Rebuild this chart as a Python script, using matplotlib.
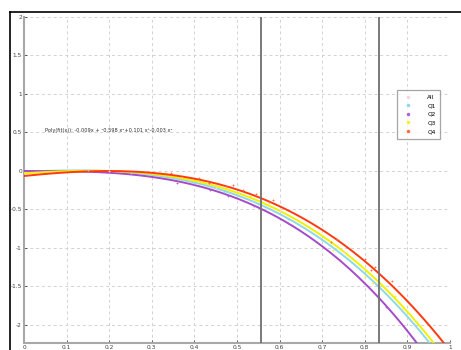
import numpy as np
import matplotlib
matplotlib.use("Agg")
import matplotlib.pyplot as plt
from matplotlib.lines import Line2D

# ---- data ----
curve_x = [0.0, 0.1, 0.2, 0.3, 0.4, 0.5, 0.6, 0.7, 0.8, 0.9, 1.0]
q1_curve = [-0.01, 0.007, -0.002, -0.050, -0.150, -0.315, -0.558, -0.894, -1.333, -1.891, -2.58]
q2_curve = [0.0, -0.003, -0.023, -0.077, -0.182, -0.356, -0.616, -0.978, -1.459, -2.078, -2.85]
q3_curve = [-0.03, -0.002, 0.0, -0.037, -0.127, -0.282, -0.516, -0.843, -1.276, -1.828, -2.512]
q4_curve = [-0.065, -0.018, 0.0, -0.023, -0.100, -0.240, -0.460, -0.765, -1.170, -1.690, -2.336]

q1_x = [0.15, 0.25, 0.40, 0.47, 0.55, 0.62, 0.70]
q1_y = [0.01, -0.03, -0.16, -0.27, -0.43, -0.62, -0.90]
q2_x = [0.36, 0.437, 0.48, 0.54, 0.62, 0.69, 0.742, 0.797, 0.85]
q2_y = [-0.15, -0.25, -0.32, -0.46, -0.68, -0.93, -1.16, -1.45, -1.76]
q3_x = [0.37, 0.43, 0.53, 0.725, 0.80, 0.82, 0.87, 0.89]
q3_y = [-0.09, -0.16, -0.33, -1.02, -1.38, -1.45, -1.62, -1.78]
q4_x = [0.33, 0.345, 0.41, 0.435, 0.475, 0.49, 0.515, 0.545, 0.575, 0.585, 0.72, 0.735, 0.80, 0.815, 0.825, 0.865]
q4_y = [-0.03, -0.02, -0.09, -0.15, -0.19, -0.18, -0.25, -0.30, -0.40, -0.38, -0.92, -0.88, -1.14, -1.28, -1.25, -1.43]
all_x = [0.2, 0.45, 0.6, 0.75]
all_y = [0.0, -0.22, -0.52, -1.05]

vlines_x = [0.556, 0.833]
xticks = [0, 0.1, 0.2, 0.3, 0.4, 0.5, 0.6, 0.7, 0.8, 0.9, 1]
xtick_labels = ["0", "0.1", "0.2", "0.3", "0.4", "0.5", "0.6", "0.7", "0.8", "0.9", "1"]
yticks = [-2, -1.5, -1, -0.5, 0, 0.5, 1, 1.5, 2]
ytick_labels = ["-2", "-1.5", "-1", "-0.5", "0", "0.5", "1", "1.5", "2"]
legend_labels = ["All", "Q1", "Q2", "Q3", "Q4"]
annotation = "Poly(fit(x)): -0.009x + \u00b90.598 x\u00b2+0.101 x\u00b3-0.003 x\u2074"

# ---- figure ----
W, H = 461, 350
fig = plt.figure(figsize=(W / 100, H / 100), dpi=100)
fig.patch.set_facecolor("white")

# outer black frame (left and top visible)
fig.add_artist(Line2D([10 / W, 10 / W], [0, 1 - 12 / H], color="black", lw=1.2, transform=fig.transFigure))
fig.add_artist(Line2D([10 / W, 1], [1 - 12 / H, 1 - 12 / H], color="black", lw=1.2, transform=fig.transFigure))

ax = fig.add_axes([24 / W, 7 / H, 426 / W, 326 / H])
ax.set_xlim(0, 1)
ax.set_ylim(-2.234, 2.0)

ax.grid(True, color="#d2d2d2", linestyle=(0, (3, 3)), lw=0.7)
ax.set_axisbelow(True)
for s in ["top", "right"]:
    ax.spines[s].set_visible(False)
for s in ["left", "bottom"]:
    ax.spines[s].set_color("#a8a8a8")
    ax.spines[s].set_linewidth(1.5)

ax.set_xticks(xticks)
ax.set_xticklabels(xtick_labels)
ax.set_yticks(yticks)
ax.set_yticklabels(ytick_labels)
ax.tick_params(axis="both", labelsize=4.2, colors="#404040", length=2, width=0.6, pad=1.5, direction="in")

xs = np.linspace(0, 1, 300)
colors = {"All": "#f2c8dc", "Q1": "#8fd8e6", "Q2": "#a64ac9", "Q3": "#f0f000", "Q4": "#ff3a10"}
pt_colors = {"All": "#f4d4e4", "Q1": "#88d8e8", "Q2": "#b060d0", "Q3": "#f8f020", "Q4": "#ff6a40"}

for key, cy in [("Q1", q1_curve), ("Q2", q2_curve), ("Q3", q3_curve), ("Q4", q4_curve)]:
    coef = np.polyfit(curve_x, cy, 3)
    ax.plot(xs, np.polyval(coef, xs), color=colors[key], lw=1.4, zorder=3)

for key, px, py in [("All", all_x, all_y), ("Q1", q1_x, q1_y), ("Q2", q2_x, q2_y),
                    ("Q3", q3_x, q3_y), ("Q4", q4_x, q4_y)]:
    ax.scatter(px, py, s=3.5, marker="+", color=pt_colors[key], lw=0.6, zorder=4)

for vx in vlines_x:
    ax.axvline(vx, color="#707070", lw=1.3, zorder=5)

ax.text(0.05, 0.52, annotation, fontsize=3.6, color="#303030", va="center", ha="left")

handles = [Line2D([], [], marker=".", ls="none", color=pt_colors[k], markersize=3) for k in legend_labels]
leg = fig.legend(handles, legend_labels, loc="upper left", bbox_to_anchor=(397 / W, 1 - 90 / H),
                 fontsize=4.2, frameon=True, fancybox=False, edgecolor="#909090",
                 handlelength=2.0, handletextpad=2.4, labelspacing=0.6, borderpad=0.8,
                 borderaxespad=0.0, markerfirst=True)
leg.get_frame().set_linewidth(0.9)

fig.savefig("out.png", dpi=100, facecolor="white")
